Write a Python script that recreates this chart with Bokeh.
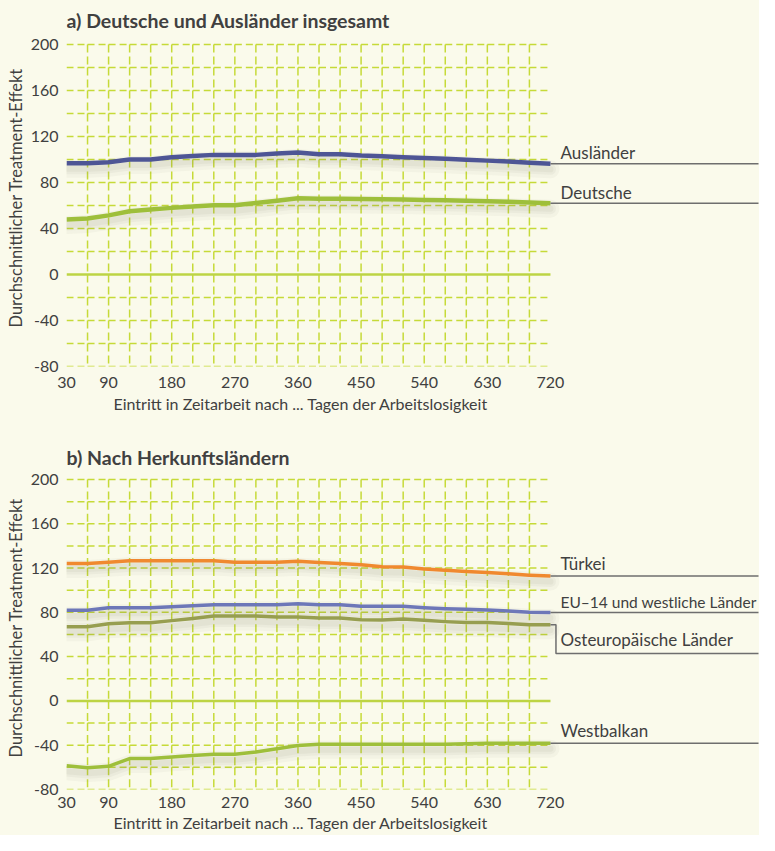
from bokeh.plotting import figure
from bokeh.models import Range1d, FixedTicker, Title
from bokeh.layouts import column
from bokeh.embed import file_html
from bokeh.resources import INLINE
from bokeh.core.properties import value

# ---------------- data ----------------
days = [30, 60, 90, 120, 150, 180, 210, 240, 270, 300, 330, 360,
        390, 420, 450, 480, 510, 540, 570, 600, 630, 660, 690, 720]

auslaender = [96.7, 96.7, 97.6, 99.9, 99.9, 101.9, 103.1, 104.0, 104.0, 104.0, 105.1, 106.0,
              104.5, 104.5, 103.4, 102.8, 102.0, 101.3, 100.6, 99.8, 99.0, 98.2, 97.2, 96.2]
deutsche = [47.7, 48.6, 51.4, 54.9, 56.4, 57.9, 59.0, 60.2, 60.2, 62.2, 64.2, 66.2,
            65.9, 65.8, 65.6, 65.4, 65.1, 64.8, 64.5, 64.2, 63.7, 63.2, 62.6, 62.0]

tuerkei = [124.1, 124.1, 125.3, 126.5, 126.5, 126.5, 126.5, 126.5, 125.3, 125.3, 125.3, 126.2,
           125.0, 124.1, 123.0, 121.2, 120.9, 119.2, 118.0, 116.9, 116.0, 114.8, 113.6, 112.8]
eu14 = [81.9, 81.9, 84.2, 84.2, 84.2, 85.0, 85.9, 86.8, 86.8, 86.8, 86.8, 87.7,
        86.8, 86.8, 85.6, 85.4, 85.4, 84.2, 83.3, 82.8, 82.2, 81.3, 80.1, 79.8]
osteuropa = [67.0, 67.0, 69.6, 70.5, 70.5, 72.5, 74.5, 76.6, 76.6, 76.6, 75.8, 75.8,
             74.9, 74.9, 73.4, 73.0, 74.0, 72.8, 71.6, 70.8, 70.8, 69.9, 68.8, 68.8]
westbalkan = [-58.5, -60.3, -59.1, -52.1, -52.1, -50.6, -49.4, -48.2, -48.2, -46.2, -43.2, -40.3,
              -39.1, -39.1, -39.1, -39.1, -39.1, -39.1, -39.1, -38.8, -38.2, -38.2, -38.2, -38.2]

x_ticks = [30, 90, 180, 270, 360, 450, 540, 630, 720]
y_ticks = [-80, -40, 0, 40, 80, 120, 160, 200]
grid_x = [60, 90, 120, 150, 180, 210, 240, 270, 300, 330, 360, 390, 420,
          450, 480, 510, 540, 570, 600, 630, 660, 690]
grid_y = [-80, -60, -40, -20, 0, 20, 40, 60, 80, 100, 120, 140, 160, 180, 200]

title_a = "a) Deutsche und Ausländer insgesamt"
title_b = "b) Nach Herkunftsländern"
y_title = "Durchschnittlicher Treatment-Effekt"
x_title = "Eintritt in Zeitarbeit nach ... Tagen der Arbeitslosigkeit"

# ---------------- style ----------------
BG = "#FAFAEB"
GRID = "#C6DA38"
ZERO = "#BDD444"
TEXT = "#404040"
LEADER = "#6E6E6E"
FONT = "Lato"
W = 759
LEFT = 66
KX = 0.7014                      # px per day
X_LABEL_TXT = 30 + 494 / KX      # label text start
X_LEADER_END = 30 + 692 / KX     # end of leader lines


def make_panel(height, border_bottom, top200, ky, title, title_cy, series, lw,
               text_gap, tick_standoff, xt_standoff, yt_offset):
    frame_h = height - border_bottom
    x_end = 30 + (W - LEFT) / KX
    y_start = -80.05
    y_end = -80 + frame_h / ky
    p = figure(width=W, height=height, title=None,
               x_range=Range1d(30, x_end), y_range=Range1d(y_start, y_end),
               output_backend="svg", toolbar_location=None,
               min_border_left=LEFT, min_border_right=0, min_border_top=0,
               min_border_bottom=border_bottom,
               background_fill_color=BG, border_fill_color=BG,
               outline_line_color=None)
    p.grid.visible = False

    p.xaxis.ticker = FixedTicker(ticks=x_ticks)
    p.yaxis.ticker = FixedTicker(ticks=y_ticks)
    p.yaxis.major_label_overrides = {-80: "-80", -40: "-40"}
    for ax in (p.xaxis, p.yaxis):
        ax.axis_line_color = None
        ax.major_tick_line_color = None
        ax.minor_tick_line_color = None
        ax.major_tick_out = 0
        ax.major_label_text_font = FONT
        ax.major_label_text_font_size = "16px"
        ax.major_label_text_color = TEXT
    p.xaxis.major_label_standoff = tick_standoff
    p.yaxis.major_label_standoff = 8

    # axis titles as side titles (placed relative to the frame)
    p.add_layout(Title(text=x_title, align="left", offset=47, standoff=xt_standoff,
                       text_font=FONT, text_font_size="16px", text_font_style="normal",
                       text_color=TEXT), "below")
    p.add_layout(Title(text=y_title, align="left", offset=yt_offset, standoff=4,
                       text_font=FONT, text_font_size="16.5px", text_font_style="normal",
                       text_color=TEXT), "left")

    # dashed grid, one segment per cell
    hx0, hx1, hy = [], [], []
    for gy in grid_y:
        if gy == 0:
            continue
        for a, b in zip(days[:-1], days[1:]):
            hx0.append(a); hx1.append(b); hy.append(gy)
    p.segment(x0=hx0, y0=hy, x1=hx1, y1=hy, line_color=GRID, line_width=1.5,
              line_dash="7 4")
    vx, vy0, vy1 = [], [], []
    top_down = grid_y[::-1]
    for gx in grid_x:
        for a, b in zip(top_down[:-1], top_down[1:]):
            vx.append(gx); vy0.append(a); vy1.append(b)
    p.segment(x0=vx, y0=vy0, x1=vx, y1=vy1, line_color=GRID, line_width=1.5,
              line_dash="8 4")
    p.line([days[0], days[-1]], [0, 0], line_color=ZERO, line_width=2.5)

    # shadows
    off = 5.5 / ky
    for vals, color, label, lead, fs in series:
        sh = [v - off for v in vals]
        for w_, a_ in ((18, 0.05), (11, 0.06), (6, 0.07)):
            p.line(days, sh, line_color="#7a7a6a", line_width=w_, line_alpha=a_,
                   line_join="round", line_cap="round")
    # lines
    for vals, color, label, lead, fs in series:
        p.line(days, vals, line_color=color, line_width=lw, line_join="round")
    # leaders + labels
    for vals, color, label, lead, fs in series:
        last = vals[-1]
        if lead is None:
            p.line([days[-1], X_LEADER_END], [last, last], line_color=LEADER, line_width=1.5)
            ty = last + text_gap / ky
        else:
            xc = days[-1] + 5.5 / KX
            p.line([days[-1], xc, xc, X_LEADER_END], [last, last, lead, lead],
                   line_color=LEADER, line_width=1.5)
            ty = lead + (text_gap + 1) / ky
        p.text(x=[X_LABEL_TXT], y=[ty], text=[label], text_font=value(FONT),
               text_font_size=value(fs), text_color=TEXT,
               text_baseline="bottom", text_align="left")

    # panel title
    p.text(x=[30], y=[200 + (top200 - title_cy) / ky], text=[title], text_font=value(FONT),
           text_font_size=value("19.5px"), text_font_style="bold", text_color=TEXT,
           text_baseline="middle", text_align="left")
    return p


# top panel (figure y 0..427): 200 at y=44, -80 at y=366
KY1 = 322 / 280
p1 = make_panel(427, 61, 44, KY1, title_a, 20,
                [(auslaender, "#4E5595", "Ausländer", None, "17px"),
                 (deutsche, "#9EBF3B", "Deutsche", None, "17px")],
                4.5, 0.5, 10, 3, 39)

# bottom panel (figure y 427..835): 200 at y=479-427, -80 at y=789-427
KY2 = 310 / 280
p2 = make_panel(408, 46, 52, KY2, title_b, 30,
                [(tuerkei, "#F0892F", "Türkei", None, "17px"),
                 (eu14, "#6D77B8", "EU–14 und westliche Länder", None, "15.5px"),
                 (osteuropa, "#979E50", "Osteuropäische Länder", 200 - (653 - 479) / KY2, "17px"),
                 (westbalkan, "#9EBF3B", "Westbalkan", None, "17px")],
                3.5, 2, 7, 0, 32)

layout = column(p1, p2, spacing=0)
layout.styles = {"background-color": BG}
open("out.html", "w").write(file_html(layout, INLINE))
